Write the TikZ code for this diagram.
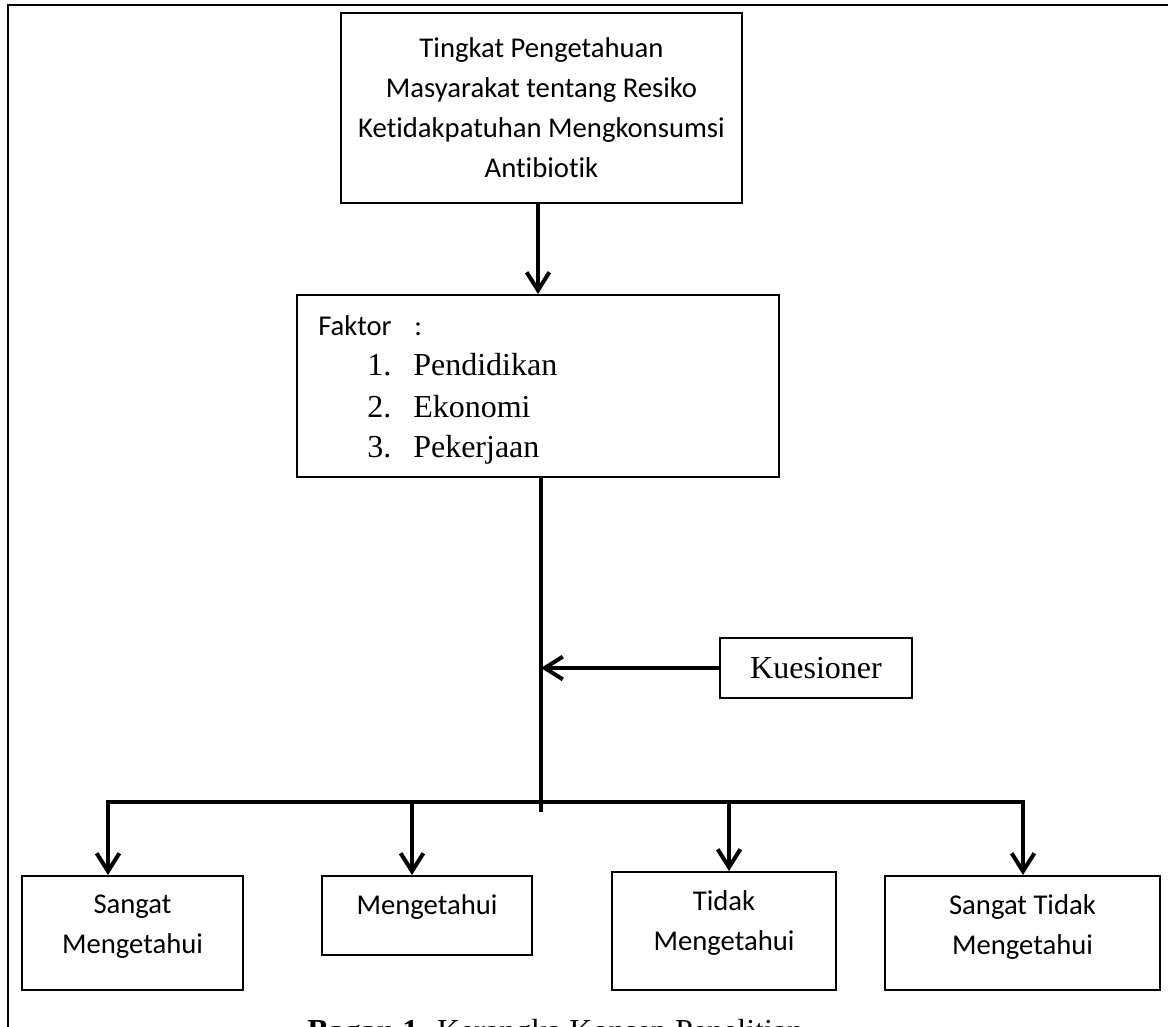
\documentclass[tikz,border=0pt]{standalone}
\usepackage{fontspec}
\setmainfont{Liberation Serif}
\newfontfamily\calibri[Ligatures=NoCommon]{Carlito}
\usetikzlibrary{arrows.meta}

\tikzset{
  box/.style={draw, line width=1.5pt, inner sep=0pt},
  conn/.style={line width=3pt},
  arr/.style={conn, -{Straight Barb[length=13.5pt,width=17pt,line width=3pt]}},
  arrbi/.style={conn, {Straight Barb[length=13.5pt,width=17pt,line width=3pt]}-{Straight Barb[length=13.5pt,width=17pt,line width=3pt]}},
  ctxt/.style={font=\calibri\fontsize{21.5}{30}\selectfont, align=center, inner sep=0pt},
  ttxt/.style={font=\fontsize{24}{30.75}\selectfont, inner sep=0pt},
}

\begin{document}
\begin{tikzpicture}[x=0.75pt, y=-0.75pt]
		%%%%% START %%%%%
		\useasboundingbox (0,0) rectangle (1168,1027);
		\clip (0,0) rectangle (1168,1027);
		\draw[line width=1.3pt] (8,5) rectangle (1180,1045);
		
		\node[box, ctxt, minimum width=300.75pt, minimum height=142.5pt] (tingkat) at (541.5,108)
			{Tingkat Pengetahuan\\Masyarakat tentang Resiko\\Ketidakpatuhan Mengkonsumsi\\Antibiotik};
		
		\node[box, minimum width=361.5pt, minimum height=136.5pt] (faktor) at (538,386) {};
		\node[ctxt, anchor=base west] (faktorlbl) at (318,335) {Faktor\hspace{17pt}:};
		\node[ttxt, anchor=base west] (pendidikan) at (367,375) {\makebox[34.5pt][l]{1.}Pendidikan};
		\node[ttxt, anchor=base west] (ekonomi) at (367,417) {\makebox[34.5pt][l]{2.}Ekonomi};
		\node[ttxt, anchor=base west] (pekerjaan) at (367,457) {\makebox[34.5pt][l]{3.}Pekerjaan};
		
		\node[box, ttxt, minimum width=144pt, minimum height=45pt] (kuesioner) at (816,668) {Kuesioner};
		
		\node[box, minimum width=165.75pt, minimum height=85.5pt] (sangat) at (132.5,933) {};
		\node[ctxt] (sangatlbl) at (132.5,927) {Sangat\\Mengetahui};
		\node[box, minimum width=157.5pt, minimum height=59.25pt] (tahu) at (427,915.5) {};
		\node[ctxt] (tahulbl) at (427,907) {Mengetahui};
		\node[box, minimum width=168pt, minimum height=88.5pt] (tidak) at (724,931) {};
		\node[ctxt] (tidaklbl) at (724,923) {Tidak\\Mengetahui};
		\node[box, minimum width=206.25pt, minimum height=85.5pt] (sangattidak) at (1022.5,933) {};
		\node[ctxt] (sangattidaklbl) at (1022.5,927) {Sangat Tidak\\Mengetahui};
		
		\coordinate (hub) at (541,802);
		\coordinate (trunkend) at (541,812);
		\coordinate (hleft) at (108,802);
		\coordinate (hright) at (1023,802);
		\coordinate (hmid1) at (412,802);
		\coordinate (hmid2) at (729,802);
		
		\draw[arr] (tingkat.south -| 538,0) -- (faktor.north -| 538,0);
		\draw[conn] (faktor.south -| hub) -- (trunkend);
		\draw[arr] (kuesioner.west) -- (kuesioner.west -| hub);
		\draw[arrbi] (hleft |- sangat.north) -- (hleft) -- (hright) -- (hright |- sangattidak.north);
		\draw[arr] (hmid1) -- (hmid1 |- tahu.north);
		\draw[arr] (hmid2) -- (hmid2 |- tidak.north);
		
		\node[ttxt, anchor=base west] (caption) at (307,1041) {\textbf{Bagan 1.} Kerangka Konsep Penelitian};
		%%%%% END %%%%%
\end{tikzpicture}
\end{document}
